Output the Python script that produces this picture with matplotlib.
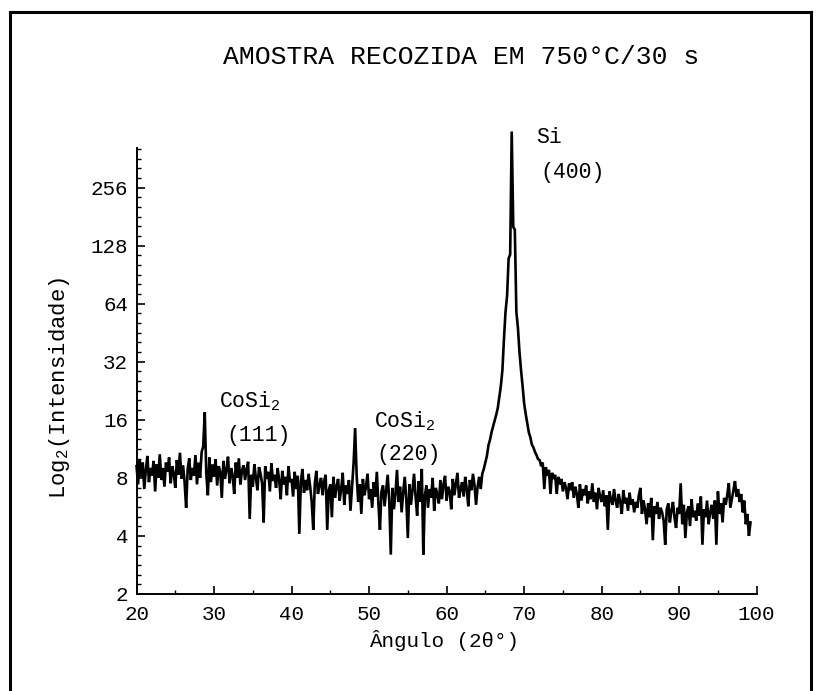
import numpy as np
import matplotlib
matplotlib.use("Agg")
import matplotlib.pyplot as plt
from matplotlib.ticker import FixedLocator, MultipleLocator, NullFormatter
from matplotlib.lines import Line2D

# fonte tipo maquina de escrever
plt.rcParams['font.family'] = ['Liberation Mono', 'DejaVu Sans Mono']
plt.rcParams['mathtext.default'] = 'regular'

# ==========================
# Dados, passo de 0.2 graus a partir de 20
# ==========================
passo = 0.2
angulo_inicial = 20.0

# 20.0 - 39.8 graus
fundo_20_40 = [
    9.2, 7.4, 10.0, 8.1, 9.6, 7.0, 8.8, 10.4, 7.6, 9.0,
    8.2, 9.8, 6.8, 9.4, 8.0, 10.6, 7.8, 9.0, 7.2, 9.6,
    8.6, 10.2, 7.5, 9.2, 8.4, 7.1, 9.9, 8.3, 10.8, 7.9,
    9.3, 7.6, 5.6, 8.9, 10.1, 7.8, 9.0, 8.2, 10.5, 7.4,
    9.6, 8.0, 10.9, 11.6, 17.5, 8.4, 6.5, 10.2, 7.6, 9.4,
    8.1, 10.0, 7.3, 9.2, 8.6, 6.3, 9.8, 7.9, 8.8, 10.3,
    7.5, 9.0, 8.2, 6.6, 9.6, 8.0, 10.1, 7.4, 8.7, 9.3,
    7.8, 8.9, 9.7, 4.9, 8.3, 7.2, 9.4, 8.0, 6.9, 9.1,
    8.4, 7.5, 4.7, 9.2, 7.9, 8.6, 6.8, 9.5, 7.7, 8.3,
    7.1, 9.0, 7.8, 6.2, 8.7, 7.4, 8.1, 6.5, 9.2, 7.6,
]

# 40.0 - 63.8 graus
fundo_40_64 = [
    7.9, 6.4, 8.6, 7.0, 8.2, 4.1, 7.6, 8.9, 6.7, 7.8,
    6.9, 8.4, 7.2, 6.0, 4.3, 7.5, 8.7, 6.6, 7.3, 8.0,
    6.5, 7.7, 8.3, 4.3, 6.9, 7.4, 5.0, 8.1, 6.3, 7.2,
    7.9, 6.1, 7.0, 8.5, 5.8, 7.3, 6.6, 7.8, 5.4, 7.1,
    9.5, 14.5, 8.2, 6.0, 7.4, 5.2, 7.9, 6.5, 7.2, 8.4,
    6.2, 7.0, 5.6, 7.6, 6.4, 8.6, 5.9, 4.3, 6.8, 7.3,
    5.7, 6.9, 8.3, 6.1, 3.2, 7.1, 5.5, 6.6, 8.8, 6.0,
    7.2, 5.3, 6.7, 8.1, 6.2, 3.9, 7.4, 5.8, 6.9, 8.4,
    6.4, 5.1, 7.7, 6.0, 8.9, 3.2, 6.5, 7.3, 5.6, 7.0,
    6.3, 8.0, 5.4, 7.1, 6.6, 5.9, 7.8, 6.2, 7.4, 8.2,
    6.1, 7.2, 6.8, 5.5, 7.9, 6.5, 7.4, 8.5, 6.3, 7.0,
    7.6, 6.4, 8.1, 7.0, 5.7, 7.8, 6.9, 8.4, 7.3, 5.8,
]

# 64.0 - 75.8 graus (pico Si 400)
pico_64_76 = [
    7.2, 8.1, 7.0, 8.4, 8.9, 9.6, 10.4, 11.8, 12.6, 13.8,
    14.8, 15.9, 17.0, 18.4, 21.0, 24.0, 29.0, 42.0, 58.0, 70.0,
    110.0, 115.0, 500.0, 160.0, 155.0, 58.0, 48.0, 36.0, 29.0, 24.0,
    19.5, 17.2, 15.4, 13.8, 13.0, 11.9, 11.5, 10.9, 10.5, 10.0,
    9.9, 9.2, 9.6, 7.0, 9.1, 8.2, 8.8, 6.6, 8.5, 7.9,
    8.3, 6.6, 8.1, 7.4, 7.9, 6.8, 7.6, 7.1, 6.2, 7.5,
]

# 76.0 - 99.2 graus
fundo_76_100 = [
    6.9, 7.6, 6.3, 7.2, 6.6, 5.6, 7.4, 6.1, 7.0, 6.5,
    7.3, 5.9, 6.8, 6.2, 7.5, 6.0, 6.7, 5.5, 7.1, 6.4,
    6.0, 6.9, 5.7, 6.5, 4.3, 6.8, 6.2, 5.8, 7.0, 6.1,
    5.6, 6.6, 6.0, 5.2, 6.9, 5.9, 6.3, 5.4, 6.7, 5.8,
    6.2, 5.3, 6.0, 5.6, 6.5, 7.1, 5.2, 6.1, 5.5, 4.6,
    5.9, 5.0, 6.3, 3.8, 5.7, 5.2, 6.0, 4.9, 5.6, 5.3,
    4.8, 3.6, 5.5, 5.9, 4.7, 5.4, 6.0, 5.0, 4.4, 5.6,
    5.2, 7.5, 4.6, 5.8, 3.9, 5.3, 5.7, 4.5, 6.2, 5.0,
    5.4, 4.8, 5.9, 5.1, 6.4, 3.6, 5.5, 5.0, 6.1, 4.6,
    5.3, 5.8, 4.9, 6.1, 3.6, 6.8, 5.2, 5.9, 4.7, 6.3,
    5.8, 6.5, 7.5, 5.6, 6.2, 6.9, 7.7, 6.4, 7.0, 6.0,
    6.6, 5.3, 6.1, 4.6, 5.2, 4.0, 4.7,
]

intensidade = np.array(fundo_20_40 + fundo_40_64 + pico_64_76 + fundo_76_100)
angulo = angulo_inicial + passo * np.arange(len(intensidade))

y_ticks = [2, 4, 8, 16, 32, 64, 128, 256]
x_ticks = [20, 30, 40, 50, 60, 70, 80, 90, 100]

picos = [
    ("CoSi$_2$", 30.65, 20.0),
    ("(111)", 31.55, 13.2),
    ("CoSi$_2$", 50.6, 15.8),
    ("(220)", 51.0, 10.6),
    ("Si", 71.5, 467),
    ("(400)", 72.05, 307),
]

# ==========================
# Grafico
# ==========================
fig = plt.figure(figsize=(8.19, 6.91), dpi=100)
ax = fig.add_axes([0.1667, 0.1404, 0.7572, 0.6693])

ax.plot(angulo, intensidade, color='black', linewidth=1.9,
        solid_joinstyle='miter', clip_on=False)

ax.set_yscale('log', base=2)
ax.set_xlim(20, 100)
ax.set_ylim(2, 500)

ax.spines['top'].set_visible(False)
ax.spines['right'].set_visible(False)
ax.spines['left'].set_bounds(2, 410)
ax.spines['left'].set_linewidth(1.4)
ax.spines['bottom'].set_linewidth(1.4)

ax.set_yticks(y_ticks)
ax.set_yticklabels([str(v) for v in y_ticks])
ax.yaxis.set_minor_locator(FixedLocator(
    [2 ** (k / 6) for k in range(6, 53) if k % 6 != 0]))
ax.yaxis.set_minor_formatter(NullFormatter())

ax.set_xticks(x_ticks)
ax.set_xticklabels([str(v) for v in x_ticks])
ax.xaxis.set_minor_locator(MultipleLocator(5))

ax.tick_params(which='major', direction='in', length=6, width=1.2,
               labelsize=15)
ax.tick_params(axis='x', which='major', pad=8)
ax.tick_params(axis='y', which='major', pad=6)
ax.tick_params(which='minor', direction='in', length=3, width=1.0)

for texto, xx, yy in picos:
    ax.text(xx, yy, texto, fontsize=15.5, ha='left', va='center')

fig.text(0.563, 0.9175, "AMOSTRA RECOZIDA EM 750°C/30 s",
         ha='center', va='center', fontsize=19)
fig.text(0.542, 0.0724, "Ângulo (2θ°)", ha='center', va='center',
         fontsize=15)
fig.text(0.073, 0.4385, "Log$_2$(Intensidade)", ha='center', va='center',
         rotation=90, fontsize=16)

# moldura da figura (esquerda, topo, direita)
for xs, ys in [([0.012, 0.012], [0.0, 0.983]),
               ([0.012, 0.990], [0.983, 0.983]),
               ([0.990, 0.990], [0.983, 0.0])]:
    fig.add_artist(Line2D(xs, ys, transform=fig.transFigure,
                          color='black', linewidth=2.2))

fig.savefig("out.png", dpi=100, facecolor='white')
